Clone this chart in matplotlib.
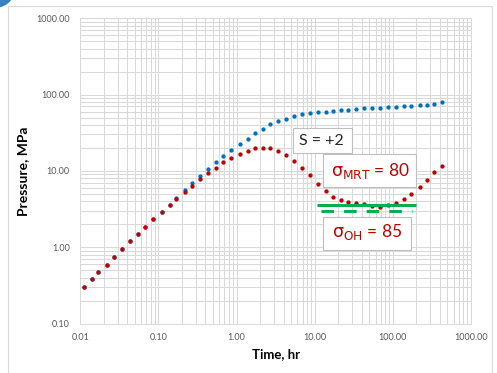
import numpy as np
import matplotlib
matplotlib.use("Agg")
import matplotlib.pyplot as plt
from matplotlib.patches import Rectangle, Circle
from matplotlib.ticker import LogLocator, FormatStrFormatter, NullFormatter

plt.rcParams['font.family'] = ['Lato', 'DejaVu Sans']
plt.rcParams['mathtext.fontset'] = 'dejavusans'

# data
time_hr = [0.011, 0.014, 0.017, 0.022, 0.027, 0.034, 0.043, 0.054, 0.068, 0.086,
           0.11, 0.14, 0.17, 0.22, 0.27, 0.34, 0.43, 0.54, 0.68, 0.86,
           1.1, 1.4, 1.7, 2.2, 2.7, 3.4, 4.3, 5.4, 6.8, 8.6,
           11, 14, 17, 22, 27, 34, 43, 54, 68, 86,
           110, 140, 170, 220, 270, 340, 430]
p_skin = [0.305, 0.38, 0.479, 0.59, 0.75, 0.935, 1.19, 1.47, 1.85, 2.31,
          2.87, 3.55, 4.44, 5.7, 7.03, 8.5, 10.6, 13.0, 15.5, 18.8,
          22.5, 26.4, 31.4, 35.4, 40.6, 45.1, 48.3, 52.4, 55.0, 57.3,
          58.3, 59.6, 61.4, 62.6, 63.2, 64.6, 65.8, 66.6, 66.6, 67.8,
          67.8, 70.0, 71.4, 72.1, 72.8, 75.2, 78.8]
p_stress = [0.305, 0.38, 0.479, 0.59, 0.75, 0.935, 1.19, 1.47, 1.85, 2.31,
            2.87, 3.55, 4.34, 5.3, 6.43, 7.77, 9.3, 11.0, 13.1, 14.8,
            16.8, 18.4, 19.8, 19.8, 19.8, 18.2, 16.3, 13.6, 11.0, 8.8,
            6.76, 5.4, 4.57, 4.18, 3.89, 3.74, 3.67, 3.44, 3.38, 3.53,
            3.82, 4.3, 5.05, 6.1, 7.6, 9.7, 11.7]
mrt_t = [10.6, 197]
mrt_p = [3.6, 3.6]
oh_t = [12.1, 178]
oh_p = [2.94, 2.94]

W, H = 497, 373
fig = plt.figure(figsize=(W / 100, H / 100), dpi=100)

# outer chart frame and the stray blue corner
fig.add_artist(Rectangle((8 / W, -0.05), (492 - 8) / W, 1.05 - 6 / H,
                         transform=fig.transFigure, fill=False,
                         ec='#d9d9d9', lw=0.8))
fig.add_artist(Circle((-8 / W, 1 + 8 / H), 22 / W, transform=fig.transFigure,
                      fc='#3a7fc0', ec='none'))

ax = fig.add_axes([80.3 / W, 1 - 323.5 / H, (471 - 80.3) / W, (323.5 - 18.3) / H])
ax.set_xscale('log')
ax.set_yscale('log')
ax.set_xlim(0.01, 1000)
ax.set_ylim(0.1, 1000)

ax.xaxis.set_major_locator(LogLocator(base=10))
ax.yaxis.set_major_locator(LogLocator(base=10))
ax.xaxis.set_minor_locator(LogLocator(base=10, subs=np.arange(2, 10)))
ax.yaxis.set_minor_locator(LogLocator(base=10, subs=np.arange(2, 10)))
ax.xaxis.set_major_formatter(FormatStrFormatter('%.2f'))
ax.yaxis.set_major_formatter(FormatStrFormatter('%.2f'))
ax.xaxis.set_minor_formatter(NullFormatter())
ax.yaxis.set_minor_formatter(NullFormatter())
ax.grid(True, which='both', color='#d9d9d9', lw=0.75)
ax.set_axisbelow(True)
ax.tick_params(which='both', length=0, labelsize=6.5, labelcolor='#595959')
ax.tick_params(axis='x', pad=7)
ax.tick_params(axis='y', pad=7.5)
for s in ax.spines.values():
    s.set_color('#d9d9d9')
    s.set_linewidth(0.75)

ax.plot(time_hr, p_skin, 'o', color='#0070c0', ms=3.1, mew=0, zorder=3)
ax.plot(time_hr, p_stress, 'o', color='#c00000', ms=3.1, mew=0, zorder=4)
ax.plot(mrt_t, mrt_p, color='#00b050', lw=2.2, solid_capstyle='butt', zorder=5)
ax.plot(oh_t, oh_p, color='#00b050', lw=2.2, dashes=(4.1, 3.3), zorder=5)

ax.set_xlabel('Time, hr', fontsize=9.5, fontweight='bold', labelpad=4)
ax.set_ylabel('Pressure, MPa', fontsize=10, fontweight='bold', labelpad=5)

# annotation boxes (pixel layout)
def box(x0, y0, x1, y1):
    fig.add_artist(Rectangle((x0 / W, 1 - y1 / H), (x1 - x0) / W, (y1 - y0) / H,
                             transform=fig.transFigure, fc='white',
                             ec='#bfbfbf', lw=0.8, zorder=6))

box(292.7, 127.7, 352.3, 153.3)
fig.text(299.3 / W, 1 - 141 / H, 'S = +2', fontsize=11.5, color='#262626',
         va='center', ha='left', zorder=7)
box(323.3, 154.3, 416, 186.7)
fig.text(331 / W, 1 - 175.7 / H, r'$\mathrm{\sigma_{MRT}}$ = 80', fontsize=12.5,
         color='#c00000', va='baseline', ha='left', zorder=7)
box(323.3, 216.7, 410.7, 250.3)
fig.text(331.7 / W, 1 - 236.7 / H, r'$\mathrm{\sigma_{OH}}$ = 85', fontsize=12.5,
         color='#c00000', va='baseline', ha='left', zorder=7)

fig.savefig('out.png', dpi=100)
